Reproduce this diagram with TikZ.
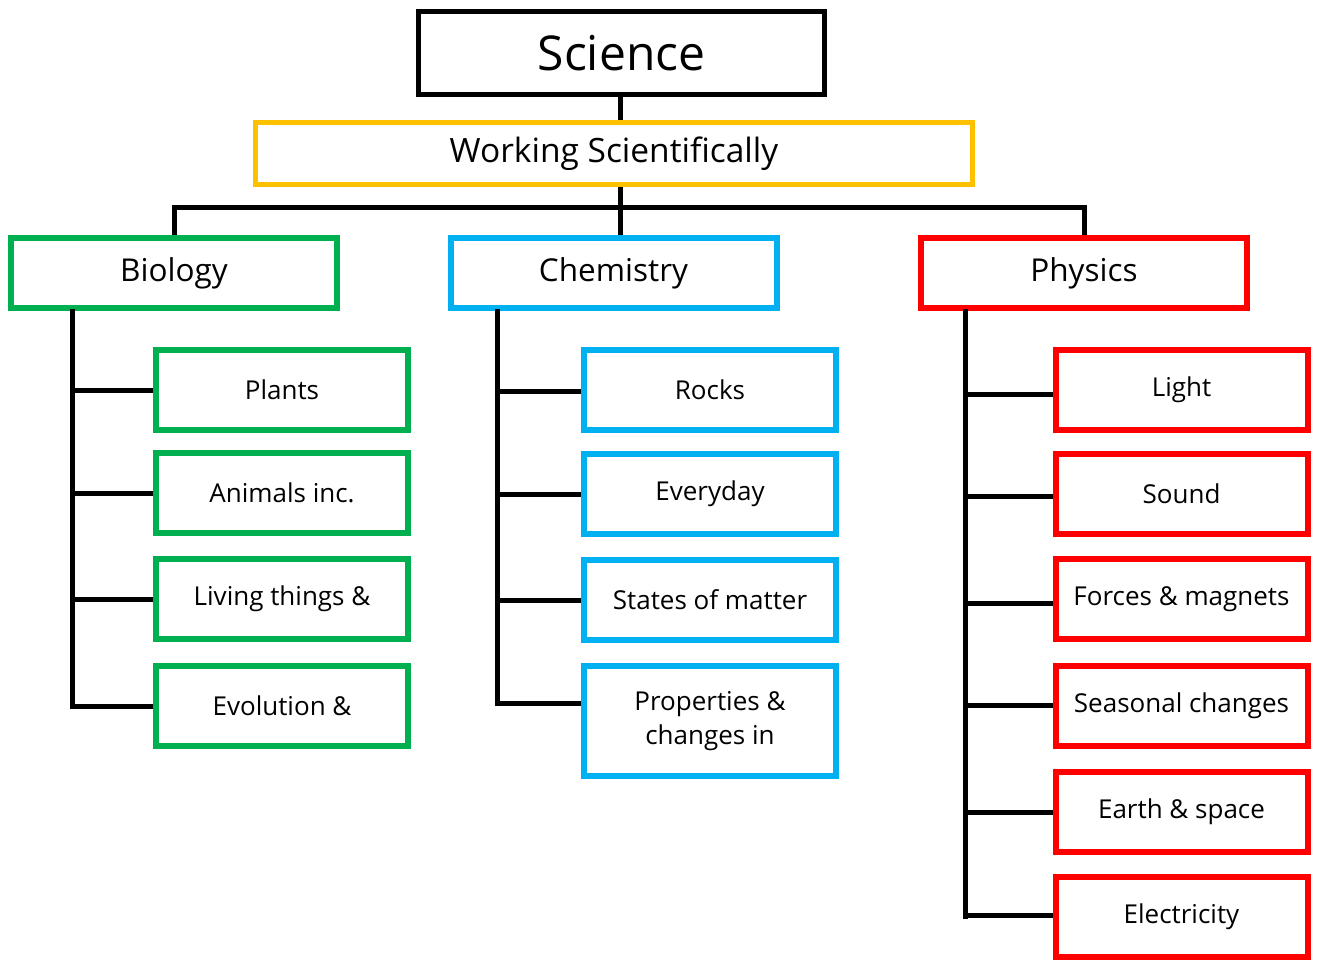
\documentclass[tikz,border=0pt]{standalone}
\usepackage{fontspec}
\setmainfont{Open Sans}
\definecolor{cgreen}{HTML}{00B050}
\definecolor{cblue}{HTML}{00B0F0}
\definecolor{cred}{HTML}{FF0000}
\definecolor{cyellow}{HTML}{FFC000}
\tikzset{
  topbox/.style={draw=black, line width=5pt, minimum width=406pt, minimum height=83pt, inner sep=0pt, font=\fontsize{48}{54}\selectfont},
  wsbox/.style={draw=cyellow, line width=5pt, minimum width=717pt, minimum height=62pt, inner sep=0pt, font=\fontsize{33.5}{38}\selectfont},
  subject/.style={line width=6pt, minimum width=326pt, minimum height=70pt, inner sep=0pt, font=\fontsize{31.5}{36}\selectfont},
  topic/.style={line width=6pt, minimum width=252pt, minimum height=80pt, inner sep=0pt, align=center, font=\fontsize{26}{34}\selectfont},
  link/.style={draw=black, line width=5pt},
}
\begin{document}
\begin{tikzpicture}[x=1pt,y=-1pt]
\useasboundingbox (0,0) rectangle (1317,960);
\fill[white] (0,0) rectangle (1317,960);

\node[topbox] (science) at (621.5,53) {Science};
\node[wsbox] (ws) at (614,153.5) {Working Scientifically};

\node[subject, draw=cgreen] (bio) at (174,273) {Biology};
\node[subject, draw=cblue] (chem) at (613.5,273) {Chemistry};
\node[subject, draw=cred] (phys) at (1084,273) {Physics};

% Biology topics
\node[topic, draw=cgreen] (plants) at (282,390) {Plants};
\node[topic, draw=cgreen] (animals) at (282,493) {Animals inc.};
\node[topic, draw=cgreen] (living) at (282,599) {Living things \&};
\node[topic, draw=cgreen] (evolution) at (282,706) {Evolution \&};

% Chemistry topics
\node[topic, draw=cblue] (rocks) at (710,390) {Rocks};
\node[topic, draw=cblue] (everyday) at (710,494) {Everyday};
\node[topic, draw=cblue] (states) at (710,599.5) {States of matter};
\node[topic, draw=cblue, minimum height=110pt] (props) at (710,721) {Properties \&\\changes in};

% Physics topics
\node[topic, draw=cred] (light) at (1181.5,390) {Light};
\node[topic, draw=cred] (sound) at (1181.5,494) {Sound};
\node[topic, draw=cred] (forces) at (1181.5,599) {Forces \& magnets};
\node[topic, draw=cred] (seasonal) at (1181.5,706) {Seasonal changes};
\node[topic, draw=cred] (earth) at (1181.5,812) {Earth \& space};
\node[topic, draw=cred] (elec) at (1181.5,916.5) {Electricity};

% connectors top
\coordinate (bus) at (620,208);
\draw[link] (science.south -| bus) -- (ws.north -| bus);
\draw[link] (ws.south -| bus) -- (bus);
\draw[link, line cap=rect] (bio.north |- bus) -- (phys.north |- bus);
\draw[link] (bio.north |- bus) -- (bio.north);
\draw[link] (chem.north -| bus) -- (bus);
\draw[link] (phys.north |- bus) -- (phys.north);

% Biology spine
\coordinate (bsp) at (72,311);
\draw[link, line cap=rect] (bio.south -| bsp) -- (bsp |- evolution.west);
\foreach \t in {plants,animals,living,evolution}
  \draw[link] (bsp |- \t.west) -- (\t.west);

% Chemistry spine
\coordinate (csp) at (497,311);
\draw[link, line cap=rect] (chem.south -| csp) -- (csp |- 0,703);
\foreach \t/\yy in {rocks/391,everyday/494,states/600,props/703}
  \draw[link] (csp |- 0,\yy) -- (\t.west |- 0,\yy);

% Physics spine
\coordinate (psp) at (965,311);
\draw[link, line cap=rect] (phys.south -| psp) -- (psp |- elec.west);
\foreach \t/\yy in {light/394,sound/496,forces/603,seasonal/705,earth/812,elec/915}
  \draw[link] (psp |- 0,\yy) -- (\t.west |- 0,\yy);
\end{tikzpicture}
\end{document}
